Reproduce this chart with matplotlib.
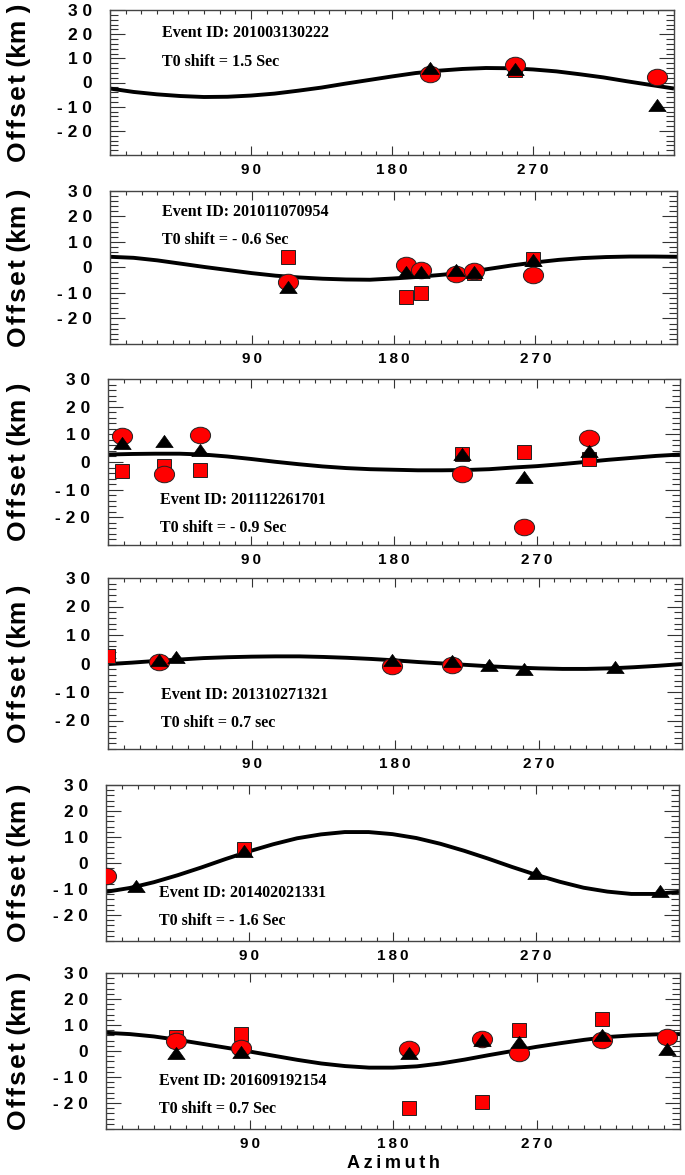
import matplotlib
matplotlib.use("Agg")
import matplotlib.pyplot as plt
from matplotlib.path import Path
from matplotlib.ticker import FixedLocator, MultipleLocator, FixedFormatter

# ---------------- data ----------------
event_ids = ["201003130222", "201011070954", "201112261701",
             "201310271321", "201402021331", "201609192154"]
t0_shifts = ["1.5 Sec", "- 0.6 Sec", "- 0.9 Sec", "0.7 sec", "- 1.6 Sec", "0.7 Sec"]

# fitted curve sampled every 15 degrees of azimuth
curve_az = [0, 15, 30, 45, 60, 75, 90, 105, 120, 135, 150, 165, 180,
            195, 210, 225, 240, 255, 270, 285, 300, 315, 330, 345, 360]
curve_off = [
    [-2.5, -3.9, -4.9, -5.6, -6.0, -5.9, -5.4, -4.6, -3.4, -2.1, -0.5, 1.0, 2.5,
     3.9, 4.9, 5.6, 6.0, 5.9, 5.4, 4.6, 3.4, 2.1, 0.5, -1.0, -2.5],
    [4.2, 3.8, 2.8, 1.5, 0.2, -1.0, -2.2, -3.2, -3.9, -4.4, -4.7, -4.8, -4.3,
     -3.7, -2.9, -2.0, -0.6, 0.8, 2.0, 3.0, 3.7, 4.1, 4.3, 4.3, 4.2],
    [2.7, 2.9, 3.0, 3.0, 2.7, 2.0, 1.1, 0.1, -0.8, -1.6, -2.2, -2.6, -2.8,
     -3.0, -3.0, -2.9, -2.6, -2.0, -1.5, -0.8, 0.0, 0.8, 1.5, 2.2, 2.7],
    [-0.2, 0.3, 0.9, 1.4, 1.9, 2.2, 2.4, 2.5, 2.5, 2.3, 2.0, 1.6, 1.1,
     0.5, 0.0, -0.5, -1.0, -1.4, -1.7, -1.9, -1.9, -1.7, -1.3, -0.8, -0.2],
    [-11.1, -9.6, -7.4, -4.7, -1.7, 1.5, 4.5, 7.2, 9.5, 11.0, 11.9, 11.9, 11.1,
     9.6, 7.4, 4.7, 1.7, -1.5, -4.5, -7.2, -9.5, -11.0, -11.9, -11.9, -11.1],
    [7.0, 6.5, 5.6, 4.3, 2.8, 1.3, -0.2, -1.8, -3.4, -4.8, -5.8, -6.4, -6.4,
     -5.9, -4.8, -3.3, -1.6, 0.0, 1.6, 3.0, 4.3, 5.4, 6.0, 6.4, 6.5],
]

# red circles
circle_az = [
    [204.0, 258.5, 349.0],
    [112.7, 188.0, 197.5, 219.6, 231.0, 268.8],
    [8.6, 35.0, 58.0, 223.0, 262.0, 302.8],
    [32.0, 178.2, 216.0],
    [0.0],
    [43.7, 84.7, 190.0, 236.0, 259.0, 311.0, 351.6],
]
circle_off = [
    [3.6, 7.3, 2.2],
    [-5.8, 1.1, -1.1, -2.5, -1.2, -2.9],
    [9.3, -4.2, 9.9, -4.2, -23.6, 8.5],
    [0.7, -0.9, -0.7],
    [-4.9],
    [3.8, 1.0, 0.6, 4.8, -0.9, 4.4, 5.2],
]

# red squares
square_az = [
    [258.5],
    [112.7, 188.0, 197.5, 231.0, 268.8],
    [8.6, 35.0, 58.0, 223.0, 262.0, 302.8],
    [0.0],
    [86.6],
    [43.7, 84.7, 190.0, 236.0, 259.0, 311.0],
]
square_off = [
    [5.0],
    [4.1, -11.7, -10.1, -2.1, 3.4],
    [-3.4, -1.5, -2.8, 3.0, 3.6, 1.0],
    [2.5],
    [5.4],
    [5.2, 6.7, -21.8, -19.5, 8.2, 12.4],
]

# black triangles
triangle_az = [
    [204.0, 258.5, 349.0],
    [112.7, 188.0, 197.5, 219.6, 231.0, 268.8],
    [8.6, 35.0, 58.0, 223.0, 262.0, 302.8],
    [32.0, 42.7, 178.2, 216.0, 239.0, 261.0, 318.0],
    [19.0, 86.6, 270.0, 348.0],
    [43.7, 84.7, 190.0, 236.0, 259.0, 311.0, 351.6],
]
triangle_off = [
    [6.2, 5.6, -9.2],
    [-7.5, -1.8, -1.6, -0.9, -1.8, 2.8],
    [7.0, 7.5, 4.2, 2.8, -5.5, 3.9],
    [1.1, 2.2, 1.1, 0.8, -0.5, -2.1, -1.3],
    [-8.8, 4.5, -4.0, -10.7],
    [-0.9, -0.5, -0.9, 4.2, 3.5, 6.1, 0.6],
]

x_ticks = [90, 180, 270]
y_ticks = [-20, -10, 0, 10, 20, 30]

# ---------------- layout ----------------
W, H = 685, 1175
fig = plt.figure(figsize=(W / 100, H / 100), dpi=100)

# axes boxes in pixels: left, top, right, bottom
boxes = [(110, 10, 674, 155), (110, 191, 677, 344), (108, 379, 680, 545),
         (108, 578, 682, 749), (106, 785, 679, 941), (106, 973, 680, 1129)]
text_y = [(20.3, 8.6), (21.6, 10.9), (-13.6, -24.0),
          (-11.0, -21.0), (-11.4, -22.4), (-11.6, -22.2)]

SANS = ["Liberation Sans", "DejaVu Sans"]
SERIF = ["Liberation Serif", "DejaVu Serif"]

circ = Path.unit_circle()
ellipse = Path(circ.vertices * [1.0, 0.82], circ.codes)
triangle = Path([(-1, -0.7), (1, -0.7), (0, 0.7), (-1, -0.7)],
                [Path.MOVETO, Path.LINETO, Path.LINETO, Path.CLOSEPOLY])


def spaced(s, sep):
    return sep.join(list(s))


for i, (l, t, r, b) in enumerate(boxes):
    ax = fig.add_axes([l / W, 1 - b / H, (r - l) / W, (b - t) / H])
    ax.set_xlim(0, 360)
    ax.set_ylim(-30, 30)

    ax.plot(curve_az, curve_off[i], color="black", lw=2.8, zorder=2,
            solid_capstyle="butt")
    ax.plot(square_az[i], square_off[i], linestyle="none", marker="s", ms=10.5,
            mfc="#ff0000", mec="#222222", mew=0.7, zorder=3)
    ax.plot(circle_az[i], circle_off[i], linestyle="none", marker=ellipse, ms=14.5,
            mfc="#ff0000", mec="#222222", mew=0.7, zorder=4)
    ax.plot(triangle_az[i], triangle_off[i], linestyle="none", marker=triangle, ms=12.5,
            mfc="black", mec="black", mew=0.5, zorder=5)

    ax.xaxis.set_major_locator(FixedLocator(x_ticks))
    ax.xaxis.set_major_formatter(FixedFormatter([spaced(str(v), "\u2009") for v in x_ticks]))
    ax.xaxis.set_minor_locator(MultipleLocator(10))
    ax.yaxis.set_major_locator(FixedLocator(y_ticks))
    ax.yaxis.set_major_formatter(FixedFormatter([spaced(str(v), " ") for v in y_ticks]))
    ax.yaxis.set_minor_locator(MultipleLocator(2))

    ax.tick_params(which="both", direction="in", top=True, right=True,
                   color="#333333", width=0.8)
    ax.tick_params(axis="x", which="major", length=6.5, pad=6)
    ax.tick_params(axis="x", which="minor", length=3.0)
    ax.tick_params(axis="y", which="major", length=10.8, pad=13)
    ax.tick_params(axis="y", which="minor", length=5.8)
    for lab in ax.get_xticklabels():
        lab.set_fontfamily(SANS)
        lab.set_fontweight("bold")
        lab.set_fontsize(11)
    for lab in ax.get_yticklabels():
        lab.set_fontfamily(SANS)
        lab.set_fontweight("bold")
        lab.set_fontsize(12.5)
    for sp in ax.spines.values():
        sp.set_color("#444444")
        sp.set_linewidth(1.0)

    ax.text(33, text_y[i][0], "Event ID: " + event_ids[i], family=SERIF,
            fontweight="bold", fontsize=11.5, ha="left", va="center", zorder=6)
    ax.text(33, text_y[i][1], "T0 shift = " + t0_shifts[i], family=SERIF,
            fontweight="bold", fontsize=11.5, ha="left", va="center", zorder=6)

    fig.text(19 / W, 1 - (t + b) / 2 / H, spaced("Offset", "\u200a") + " (km )",
             rotation=90, family=SANS, fontweight="bold", fontsize=19,
             ha="center", va="center")

fig.text(393 / W, 1 - 1163 / H, spaced("Azimuth", "\u2009"), family=SANS,
         fontweight="bold", fontsize=13, ha="center", va="center")

fig.savefig("out.png", dpi=100)
